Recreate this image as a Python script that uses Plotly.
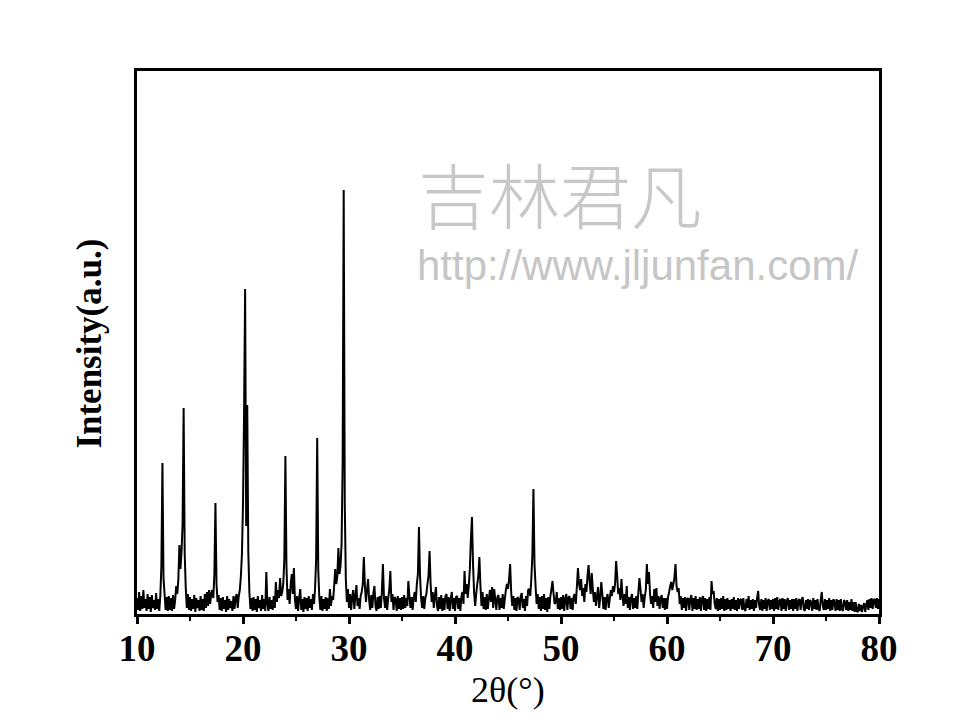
import plotly.graph_objects as go

# 2-theta scan: start, step (degrees)
two_theta_start = 10.0
two_theta_step = 0.1

# Intensity (arbitrary units), one row per degree (x.0 .. x.9)
intensity_rows = [
    [16, 4, 22, 3, 18, 5, 24, 6, 15, 3],           # 10
    [20, 5, 17, 2, 19, 6, 14, 4, 21, 5],           # 11
    [15, 3, 18, 48, 151, 36, 20, 4, 17, 3],        # 12
    [18, 4, 16, 3, 19, 5, 14, 28, 20, 34],         # 13
    [69, 45, 62, 90, 206, 60, 26, 6, 20, 4],       # 14
    [17, 3, 15, 5, 19, 2, 16, 6, 14, 3],           # 15
    [18, 4, 15, 3, 20, 6, 22, 8, 24, 10],          # 16
    [20, 24, 16, 40, 111, 30, 12, 19, 4, 16],      # 17
    [3, 17, 5, 14, 2, 18, 4, 15, 6, 13],           # 18
    [3, 18, 5, 16, 20, 6, 18, 24, 38, 60],         # 19
    [110, 200, 325, 88, 209, 62, 22, 5, 16, 3],    # 20
    [17, 4, 15, 2, 18, 6, 14, 3, 19, 5],           # 21
    [15, 3, 42, 10, 3, 17, 5, 14, 4, 18],          # 22
    [6, 32, 12, 24, 16, 36, 18, 22, 30, 55],       # 23
    [158, 48, 14, 25, 10, 30, 40, 20, 46, 14],     # 24
    [5, 18, 3, 16, 25, 4, 15, 2, 17, 5],           # 25
    [16, 3, 18, 6, 15, 4, 20, 10, 26, 55],         # 26
    [176, 44, 16, 4, 18, 3, 15, 5, 17, 3],         # 27
    [16, 5, 25, 8, 18, 14, 28, 45, 30, 38],        # 28
    [66, 40, 48, 70, 150, 424, 110, 35, 12, 25],   # 29
    [6, 20, 4, 17, 24, 5, 18, 29, 8, 16],          # 30
    [5, 18, 22, 30, 57, 28, 12, 24, 35, 14],       # 31
    [4, 19, 6, 21, 28, 8, 3, 17, 5, 18],           # 32
    [6, 22, 50, 16, 6, 18, 4, 16, 24, 43],         # 33
    [12, 20, 4, 17, 15, 3, 18, 5, 16, 4],          # 34
    [17, 5, 19, 6, 16, 8, 33, 18, 6, 17],          # 35
    [4, 16, 22, 12, 30, 40, 87, 38, 16, 6],        # 36
    [18, 5, 16, 20, 30, 38, 63, 30, 12, 22],       # 37
    [6, 18, 27, 8, 3, 17, 5, 19, 3, 16],           # 38
    [4, 18, 20, 5, 17, 3, 15, 22, 5, 16],          # 39
    [3, 17, 18, 5, 16, 3, 17, 22, 10, 43],         # 40
    [20, 30, 16, 28, 45, 75, 97, 50, 22, 8],       # 41
    [20, 30, 38, 57, 28, 8, 22, 5, 17, 4],         # 42
    [20, 5, 16, 24, 12, 27, 6, 25, 14, 4],         # 43
    [17, 19, 4, 16, 6, 20, 5, 15, 24, 30],         # 44
    [25, 35, 50, 22, 8, 18, 4, 16, 3, 17],         # 45
    [15, 4, 18, 21, 6, 15, 3, 18, 8, 24],          # 46
    [25, 18, 35, 60, 125, 50, 28, 10, 20, 5],      # 47
    [17, 3, 18, 5, 20, 4, 16, 2, 17, 5],           # 48
    [18, 25, 33, 20, 10, 12, 22, 5, 16, 4],        # 49
    [17, 5, 19, 3, 15, 20, 4, 16, 18, 5],          # 50
    [16, 4, 18, 20, 10, 28, 46, 30, 24, 35],       # 51
    [18, 26, 12, 30, 22, 38, 49, 32, 20, 41],      # 52
    [25, 12, 22, 8, 18, 27, 6, 16, 32, 20],        # 53
    [5, 17, 4, 16, 20, 6, 15, 24, 18, 28],         # 54
    [22, 30, 53, 38, 20, 26, 14, 35, 18, 8],       # 55
    [20, 10, 28, 6, 17, 4, 16, 20, 5, 16],         # 56
    [6, 18, 5, 22, 36, 25, 12, 20, 6, 17],         # 57
    [24, 50, 30, 42, 20, 10, 18, 6, 25, 12],       # 58
    [26, 8, 18, 5, 15, 19, 6, 16, 4, 16],          # 59
    [5, 17, 22, 28, 32, 24, 30, 36, 50, 28],       # 60
    [22, 26, 10, 18, 4, 16, 6, 17, 3, 15],         # 61
    [16, 4, 15, 19, 3, 16, 5, 18, 4, 15],          # 62
    [5, 17, 3, 15, 18, 4, 16, 3, 15, 5],           # 63
    [17, 4, 33, 20, 23, 10, 5, 16, 3, 15],         # 64
    [4, 16, 5, 18, 3, 15, 4, 16, 5, 14],           # 65
    [3, 15, 5, 17, 4, 14, 3, 16, 5, 14],           # 66
    [15, 4, 16, 5, 3, 15, 6, 18, 4, 14],           # 67
    [5, 15, 3, 14, 6, 16, 23, 8, 4, 15],           # 68
    [3, 14, 5, 16, 3, 13, 15, 4, 14, 5],           # 69
    [15, 3, 16, 5, 17, 4, 13, 15, 3, 16],          # 70
    [5, 15, 3, 13, 16, 4, 14, 5, 15, 3],           # 71
    [15, 5, 16, 3, 13, 15, 4, 14, 17, 5],          # 72
    [3, 14, 5, 15, 4, 14, 12, 3, 16, 5],           # 73
    [14, 4, 15, 5, 3, 14, 22, 8, 4, 15],           # 74
    [4, 14, 5, 16, 3, 14, 4, 15, 12, 3],           # 75
    [15, 4, 14, 3, 15, 5, 3, 14, 12, 4],           # 76
    [14, 3, 12, 4, 15, 3, 12, 2, 12, 3],           # 77
    [2, 10, 3, 9, 2, 8, 11, 2, 9, 14],             # 78
    [4, 15, 6, 16, 5, 14, 15, 6, 16, 5],           # 79
    [15],                                          # 80.0
]

x_tick_values = [10, 20, 30, 40, 50, 60, 70, 80]
x_tick_labels = ["10", "20", "30", "40", "50", "60", "70", "80"]
x_title = "2θ(°)"
y_title = "Intensity(a.u.)"
watermark_cn = "吉林君凡"
watermark_url = "http://www.jljunfan.com/"

intensity = [v for row in intensity_rows for v in row]
two_theta = [round(two_theta_start + i * two_theta_step, 1) for i in range(len(intensity))]

# page body adds an 8px offset; margins compensate so the frame sits at 137..879 x 71..614
fig = go.Figure()
fig.add_trace(go.Scatter(
    x=two_theta, y=intensity, mode="lines",
    line=dict(color="black", width=2, simplify=False),
    showlegend=False, hoverinfo="skip",
))

fig.update_layout(
    width=960, height=720,
    margin=dict(l=129, r=89, t=63, b=114),
    paper_bgcolor="white", plot_bgcolor="white",
    showlegend=False,
)

fig.update_xaxes(
    range=[10, 80], tickvals=x_tick_values, ticktext=x_tick_labels,
    showgrid=False, zeroline=False,
    showline=True, linecolor="black", linewidth=2.5, mirror=True,
    ticks="outside", ticklen=7, tickwidth=2.5, tickcolor="black",
    minor=dict(ticks="outside", ticklen=4, tickwidth=2, tickcolor="black", dtick=5, tick0=5),
    tickfont=dict(family="Liberation Serif", size=37, color="black", weight="bold"),
    ticklabelstandoff=-7,
)
fig.update_yaxes(
    range=[0, 543], showticklabels=False, ticks="",
    showgrid=False, zeroline=False,
    showline=True, linecolor="black", linewidth=2.5, mirror=True,
)

fig.add_annotation(
    text=y_title, xref="paper", yref="paper", x=-0.0633, y=0.498,
    textangle=-90, showarrow=False, xanchor="center", yanchor="middle",
    font=dict(family="Liberation Serif", size=35, color="black", weight="bold"),
)
fig.add_annotation(
    text=x_title, xref="paper", yref="paper", x=0.5, y=-0.14,
    showarrow=False, xanchor="center", yanchor="middle",
    font=dict(family="Liberation Serif", size=36, color="black"),
)
fig.add_annotation(
    text=watermark_cn, xref="paper", yref="paper",
    x=(560 - 137) / 742, y=(614 - 192) / 543,
    showarrow=False, xanchor="center", yanchor="middle",
    font=dict(family="Noto Sans CJK SC", size=71, color="#c8c8c8", weight=300),
)
fig.add_annotation(
    text=watermark_url, xref="paper", yref="paper",
    x=(638 - 137) / 742, y=(614 - 265) / 543,
    showarrow=False, xanchor="center", yanchor="middle",
    font=dict(family="Liberation Sans", size=42, color="#c6c6c6"),
)

fig.write_html("out.html")
